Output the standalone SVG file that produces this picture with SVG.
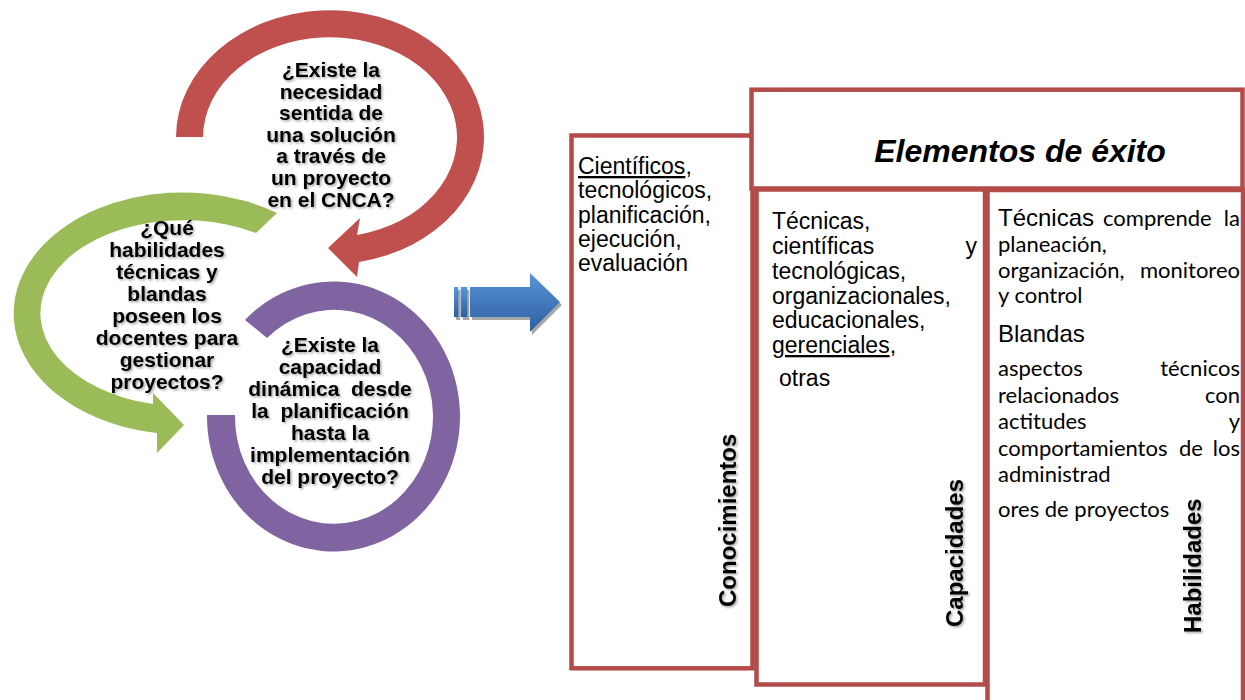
<svg xmlns="http://www.w3.org/2000/svg" width="1245" height="700" viewBox="0 0 1245 700">
<defs>
<style>
.box{fill:#fff;stroke:#b34b49;stroke-width:4.5}
.q{font-family:"Liberation Sans",Arial,sans-serif;font-weight:bold;font-size:21px;text-anchor:middle;fill:#000;white-space:pre}
.ar{font-family:"Liberation Sans",Arial,sans-serif;font-size:24px;fill:#000}
.ars{font-family:"Liberation Sans",Arial,sans-serif;font-size:23px;fill:#000}
.cal{font-family:Lato,"Liberation Sans",sans-serif;font-size:22px;fill:#000}
.end{text-anchor:end}
.vl{font-family:"Liberation Sans",Arial,sans-serif;font-weight:bold;font-size:24px;fill:#000}
.title{font-family:"Liberation Sans",Arial,sans-serif;font-weight:bold;font-style:italic;font-size:32px;text-anchor:middle;fill:#000}
.ul{text-decoration:underline}
</style>
<filter id="sh" x="-10%" y="-10%" width="130%" height="130%">
<feDropShadow dx="1.5" dy="1.5" stdDeviation="0.8" flood-color="#000" flood-opacity="0.35"/>
</filter>
<linearGradient id="blue" x1="0" y1="0" x2="0" y2="1">
<stop offset="0" stop-color="#5a95da"/>
<stop offset="1" stop-color="#2c5f9f"/>
</linearGradient>
</defs>
<rect width="1245" height="700" fill="#fff"/>

<g id="cycle-red">
<path d="M 176 137 A 154 127 0 1 1 359 262 L 357 277 L 328 248 L 360 218 L 357 235 A 127 100 0 1 0 203 137 Z" fill="#c0504d"/>
<g filter="url(#sh)">
<text class="q" x="331" y="77">¿Existe la</text>
<text class="q" x="331" y="98.5">necesidad</text>
<text class="q" x="331" y="120">sentida de</text>
<text class="q" x="331" y="141.5">una solución</text>
<text class="q" x="331" y="163">a través de</text>
<text class="q" x="331" y="185">un proyecto</text>
<text class="q" x="331" y="207">en el CNCA?</text>
</g>
</g>

<g id="cycle-green">
<path d="M 277 213 A 169 121 0 1 0 157 433 L 157 453 L 184 425 L 153 393 L 153 404 A 143 93 0 1 1 256 233 Z" fill="#9bbb59"/>
<g filter="url(#sh)">
<text class="q" x="167" y="235">¿Qué</text>
<text class="q" x="167" y="257">habilidades</text>
<text class="q" x="167" y="279">técnicas y</text>
<text class="q" x="167" y="301">blandas</text>
<text class="q" x="167" y="323">poseen los</text>
<text class="q" x="167" y="345">docentes para</text>
<text class="q" x="167" y="367">gestionar</text>
<text class="q" x="167" y="389">proyectos?</text>
</g>
</g>

<g id="cycle-purple">
<path d="M 245 320 A 126.5 135 0 1 1 207 415 L 235 415 A 99 107 0 1 0 267 338 Z" fill="#8064a2"/>
<g filter="url(#sh)">
<text class="q" x="330" y="352">¿Existe la</text>
<text class="q" x="330" y="374">capacidad</text>
<text class="q" x="330" y="396">dinámica  desde</text>
<text class="q" x="330" y="418">la  planificación</text>
<text class="q" x="330" y="440">hasta la</text>
<text class="q" x="330" y="462">implementación</text>
<text class="q" x="330" y="484">del proyecto?</text>
</g>
</g>

<g id="connectors">
<g fill="#8a8a8a" opacity="0.75" transform="translate(2,3)">
<rect x="454" y="287" width="4.3" height="30"/>
<rect x="460.7" y="287" width="6.6" height="30"/>
<polygon points="470,287 530,287 530,273 560,302 530,332 530,317 470,317"/>
</g>
<g fill="url(#blue)">
<rect x="454" y="287" width="4.3" height="30"/>
<rect x="460.7" y="287" width="6.6" height="30"/>
<polygon points="470,287 530,287 530,273 560,302 530,332 530,317 470,317"/>
</g>
</g>

<g id="box-conocimientos">
<rect class="box" x="571.5" y="135.5" width="181" height="532.8"/>
<text class="ars" x="578" y="174"><tspan class="ul">Científicos</tspan>,</text>
<text class="ars" x="578" y="198.3">tecnológicos,</text>
<text class="ars" x="578" y="222.6">planificación,</text>
<text class="ars" x="578" y="246.9">ejecución,</text>
<text class="ars" x="578" y="271.2">evaluación</text>
<g filter="url(#sh)"><text class="vl" transform="translate(736,607) rotate(-90)">Conocimientos</text></g>
</g>

<g id="box-header">
<rect class="box" x="751.5" y="89.7" width="491" height="98.8"/>
<text class="title" x="1020" y="162">Elementos de éxito</text>
</g>

<g id="box-capacidades">
<rect class="box" x="756.5" y="189.5" width="228.5" height="495"/>
<text class="ars" x="772" y="229">Técnicas,</text>
<text class="ars" x="772" y="254">científicas</text>
<text class="ars end" x="977" y="254">y</text>
<text class="ars" x="772" y="279">tecnológicas,</text>
<text class="ars" x="772" y="303.5">organizacionales,</text>
<text class="ars" x="772" y="328">educacionales,</text>
<text class="ars" x="772" y="353"><tspan class="ul">gerenciales</tspan>,</text>
<text class="ars" x="779" y="386">otras</text>
<g filter="url(#sh)"><text class="vl" transform="translate(963,627) rotate(-90)">Capacidades</text></g>
</g>

<g id="box-habilidades">
<rect class="box" x="987.5" y="190" width="255.5" height="540"/>
<text class="ar" x="998" y="225.5">Técnicas</text>
<text class="cal" x="1103" y="225.5">comprende</text>
<text class="cal end" x="1240" y="225.5">la</text>
<text class="cal" x="998" y="252">planeación,</text>
<text class="cal" x="998" y="278">organización,</text>
<text class="cal end" x="1240" y="278">monitoreo</text>
<text class="cal" x="998" y="303">y control</text>
<text class="ar" x="998" y="341.7">Blandas</text>
<text class="cal" x="998" y="376">aspectos</text>
<text class="cal end" x="1240" y="376">técnicos</text>
<text class="cal" x="998" y="403">relacionados</text>
<text class="cal end" x="1240" y="403">con</text>
<text class="cal" x="998" y="429">actitudes</text>
<text class="cal end" x="1240" y="429">y</text>
<text class="cal" x="998" y="456">comportamientos</text>
<text class="cal" x="1179" y="456">de</text>
<text class="cal end" x="1240" y="456">los</text>
<text class="cal" x="998" y="482">administrad</text>
<text class="cal" x="998" y="517">ores de proyectos</text>
<g filter="url(#sh)"><text class="vl" transform="translate(1201,633) rotate(-90)">Habilidades</text></g>
</g>
</svg>
